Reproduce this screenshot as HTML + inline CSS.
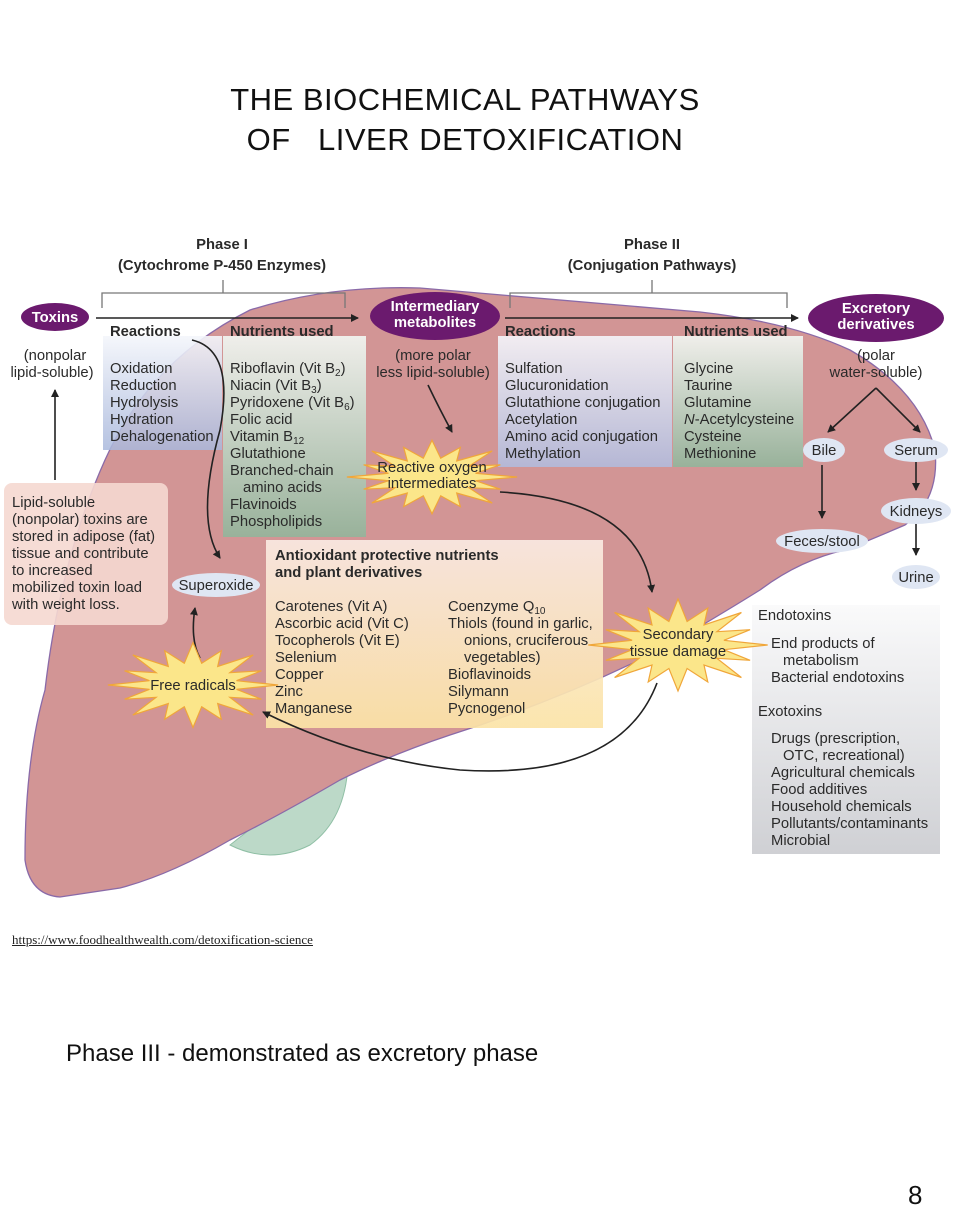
<!DOCTYPE html>
<html><head><meta charset="utf-8"><style>
html,body{margin:0;padding:0;background:#fff;}
body{width:960px;height:1232px;position:relative;overflow:hidden;font-family:"Liberation Sans",sans-serif;}
.t{position:absolute;left:0;width:930px;text-align:center;font-size:31px;color:#111;letter-spacing:0.5px}
svg text{font-family:"Liberation Sans",sans-serif;font-size:14.8px;fill:#2a2a2a}
svg .b{font-weight:bold}
</style></head><body>
<div class="t" style="top:82px">THE BIOCHEMICAL PATHWAYS</div>
<div class="t" style="top:122px">OF&nbsp;&nbsp; LIVER DETOXIFICATION</div>
<svg width="960" height="1232" style="position:absolute;left:0;top:0" xmlns="http://www.w3.org/2000/svg">
<defs>
<linearGradient id="gb" x1="0" y1="0" x2="0" y2="1"><stop offset="0" stop-color="#f4f6fb" stop-opacity=".9"/><stop offset="1" stop-color="#a9b8dc" stop-opacity=".85"/></linearGradient>
<linearGradient id="gg" x1="0" y1="0" x2="0" y2="1"><stop offset="0" stop-color="#f2f6f2" stop-opacity=".92"/><stop offset="1" stop-color="#92b59b" stop-opacity=".9"/></linearGradient>
<linearGradient id="gb2" x1="0" y1="0" x2="0" y2="1"><stop offset="0" stop-color="#f5f6fb" stop-opacity=".9"/><stop offset="1" stop-color="#b2bbdc" stop-opacity=".9"/></linearGradient>
<linearGradient id="gy" x1="0" y1="0" x2="0" y2="1"><stop offset="0" stop-color="#fbece4" stop-opacity=".9"/><stop offset="1" stop-color="#fbe3a6" stop-opacity=".92"/></linearGradient>
<linearGradient id="ggr" x1="0" y1="0" x2="0" y2="1"><stop offset="0" stop-color="#fafafb"/><stop offset="1" stop-color="#cfd0d4"/></linearGradient>
<marker id="ar" markerWidth="8" markerHeight="8" refX="7" refY="4" orient="auto" markerUnits="userSpaceOnUse"><path d="M0,0 L8,4 L0,8 z" fill="#222"/></marker>
</defs>
<path d="M230,845 Q270,865 310,845 Q345,820 348,765 L300,790 Z" fill="#bcd9c8" stroke="#8fbfa5" stroke-width="1"/>
<path d="M60,897 Q30,895 25,860 Q25,760 45,690 Q60,560 105,460 Q150,360 250,310 Q330,285 420,288 Q560,300 700,312 Q790,322 850,350 Q920,390 935,450 Q940,500 905,525 Q870,540 845,550 Q800,560 760,590 Q720,615 660,650 Q560,700 450,735 Q390,755 340,780 Q280,815 230,840 Q170,875 120,888 Z" fill="#d29595" stroke="#8a6aa8" stroke-width="1.3"/>
<rect x="103" y="336" width="119" height="114" fill="url(#gb)"/>
<rect x="223" y="336" width="143" height="201" fill="url(#gg)"/>
<rect x="498" y="336" width="174" height="131" fill="url(#gb2)"/>
<rect x="673" y="336" width="130" height="131" fill="url(#gg)"/>
<rect x="4" y="483" width="164" height="142" rx="8" fill="#f5d8d0" fill-opacity=".9"/>
<rect x="266" y="540" width="337" height="188" fill="url(#gy)"/>
<rect x="752" y="605" width="188" height="249" fill="url(#ggr)"/>
<text x="222" y="249" text-anchor="middle" class="b">Phase I</text>
<text x="222" y="270" text-anchor="middle" class="b">(Cytochrome P-450 Enzymes)</text>
<text x="652" y="249" text-anchor="middle" class="b">Phase II</text>
<text x="652" y="270" text-anchor="middle" class="b">(Conjugation Pathways)</text>
<g fill="none" stroke="#777" stroke-width="1.3">
<path d="M102,308 V293 H345 V308 M223,280 V293"/>
<path d="M510,308 V293 H787 V308 M652,280 V293"/>
</g>
<g stroke="#222" stroke-width="1.6" fill="none" marker-end="url(#ar)">
<line x1="96" y1="318" x2="358" y2="318"/>
<line x1="505" y1="318" x2="798" y2="318"/>
<path d="M55,480 V390"/>
<path d="M192,340 Q235,350 220,430 Q195,520 220,558"/>
<path d="M428,385 Q440,410 452,432"/>
<path d="M500,492 Q640,500 652,592"/>
<path d="M876,388 L828,432"/>
<path d="M876,388 L920,432"/>
<path d="M822,465 V518"/>
<path d="M916,460 V490"/>
<path d="M916,522 V555"/>
<path d="M200,658 Q190,640 195,608"/>
<path d="M657,683 Q620,780 460,770 Q360,760 263,712"/>
</g>
<ellipse cx="55" cy="317" rx="34" ry="14" fill="#6b1a6e"/>
<text x="55" y="322" text-anchor="middle" class="b" style="fill:#fff">Toxins</text>
<ellipse cx="435" cy="316" rx="65" ry="24" fill="#6b1a6e"/>
<text x="435" y="311" text-anchor="middle" class="b" style="fill:#fff">Intermediary</text>
<text x="435" y="327" text-anchor="middle" class="b" style="fill:#fff">metabolites</text>
<ellipse cx="876" cy="318" rx="68" ry="24" fill="#6b1a6e"/>
<text x="876" y="313" text-anchor="middle" class="b" style="fill:#fff">Excretory</text>
<text x="876" y="329" text-anchor="middle" class="b" style="fill:#fff">derivatives</text>
<g fill="#dfe6f3">
<ellipse cx="824" cy="450" rx="21" ry="12"/><ellipse cx="916" cy="450" rx="32" ry="12"/>
<ellipse cx="916" cy="511" rx="35" ry="13"/><ellipse cx="822" cy="541" rx="46" ry="12"/>
<ellipse cx="916" cy="577" rx="24" ry="12"/><ellipse cx="216" cy="585" rx="44" ry="12"/>
</g>
<text x="824" y="455" text-anchor="middle">Bile</text>
<text x="916" y="455" text-anchor="middle">Serum</text>
<text x="916" y="516" text-anchor="middle">Kidneys</text>
<text x="822" y="546" text-anchor="middle">Feces/stool</text>
<text x="916" y="582" text-anchor="middle">Urine</text>
<text x="216" y="590" text-anchor="middle">Superoxide</text>
<polygon id="s1" fill="#fbe68a" stroke="#f0a63a" stroke-width="1.2"/>
<polygon id="s2" fill="#fbe68a" stroke="#f0a63a" stroke-width="1.2"/>
<polygon id="s3" fill="#fbe68a" stroke="#f0a63a" stroke-width="1.2"/>
<text x="432" y="472" text-anchor="middle">Reactive oxygen</text>
<text x="432" y="488" text-anchor="middle">intermediates</text>
<text x="678" y="639" text-anchor="middle">Secondary</text>
<text x="678" y="656" text-anchor="middle">tissue damage</text>
<text x="193" y="690" text-anchor="middle">Free radicals</text>
<text x="55" y="360" text-anchor="middle">(nonpolar</text>
<text x="52" y="377" text-anchor="middle">lipid-soluble)</text>
<text x="12" y="507">Lipid-soluble</text>
<text x="12" y="524">(nonpolar) toxins are</text>
<text x="12" y="541">stored in adipose (fat)</text>
<text x="12" y="558">tissue and contribute</text>
<text x="12" y="575">to increased</text>
<text x="12" y="592">mobilized toxin load</text>
<text x="12" y="609">with weight loss.</text>
<text x="110" y="336" class="b">Reactions</text>
<g><text x="110" y="373">Oxidation</text><text x="110" y="390">Reduction</text><text x="110" y="407">Hydrolysis</text><text x="110" y="424">Hydration</text><text x="110" y="441">Dehalogenation</text></g>
<text x="230" y="336" class="b">Nutrients used</text>
<text x="230" y="373">Riboflavin (Vit B<tspan dy="3" font-size="10">2</tspan><tspan dy="-3">)</tspan></text>
<text x="230" y="390">Niacin (Vit B<tspan dy="3" font-size="10">3</tspan><tspan dy="-3">)</tspan></text>
<text x="230" y="407">Pyridoxene (Vit B<tspan dy="3" font-size="10">6</tspan><tspan dy="-3">)</tspan></text>
<text x="230" y="424">Folic acid</text>
<text x="230" y="441">Vitamin B<tspan dy="3" font-size="10">12</tspan></text>
<text x="230" y="458">Glutathione</text>
<text x="230" y="475">Branched-chain</text>
<text x="243" y="492">amino acids</text>
<text x="230" y="509">Flavinoids</text>
<text x="230" y="526">Phospholipids</text>
<text x="433" y="360" text-anchor="middle">(more polar</text>
<text x="433" y="377" text-anchor="middle">less lipid-soluble)</text>
<text x="505" y="336" class="b">Reactions</text>
<g><text x="505" y="373">Sulfation</text><text x="505" y="390">Glucuronidation</text><text x="505" y="407">Glutathione conjugation</text><text x="505" y="424">Acetylation</text><text x="505" y="441">Amino acid conjugation</text><text x="505" y="458">Methylation</text></g>
<text x="684" y="336" class="b">Nutrients used</text>
<g><text x="684" y="373">Glycine</text><text x="684" y="390">Taurine</text><text x="684" y="407">Glutamine</text><text x="684" y="424"><tspan font-style="italic">N</tspan>-Acetylcysteine</text><text x="684" y="441">Cysteine</text><text x="684" y="458">Methionine</text></g>
<text x="876" y="360" text-anchor="middle">(polar</text>
<text x="876" y="377" text-anchor="middle">water-soluble)</text>
<text x="275" y="560" class="b">Antioxidant protective nutrients</text>
<text x="275" y="577" class="b">and plant derivatives</text>
<g><text x="275" y="611">Carotenes (Vit A)</text><text x="275" y="628">Ascorbic acid (Vit C)</text><text x="275" y="645">Tocopherols (Vit E)</text><text x="275" y="662">Selenium</text><text x="275" y="679">Copper</text><text x="275" y="696">Zinc</text><text x="275" y="713">Manganese</text></g>
<g><text x="448" y="611">Coenzyme Q<tspan dy="3" font-size="10">10</tspan></text><text x="448" y="628">Thiols (found in garlic,</text><text x="464" y="645">onions, cruciferous</text><text x="464" y="662">vegetables)</text><text x="448" y="679">Bioflavinoids</text><text x="448" y="696">Silymann</text><text x="448" y="713">Pycnogenol</text></g>
<g><text x="758" y="620">Endotoxins</text><text x="771" y="648">End products of</text><text x="783" y="665">metabolism</text><text x="771" y="682">Bacterial endotoxins</text>
<text x="758" y="716">Exotoxins</text><text x="771" y="743">Drugs (prescription,</text><text x="783" y="760">OTC, recreational)</text><text x="771" y="777">Agricultural chemicals</text><text x="771" y="794">Food additives</text><text x="771" y="811">Household chemicals</text><text x="771" y="828">Pollutants/contaminants</text><text x="771" y="845">Microbial</text></g>
</svg>
<div style="position:absolute;left:12px;top:932px;font-family:'Liberation Serif',serif;font-size:13px;color:#222;text-decoration:underline">https://www.foodhealthwealth.com/detoxification-science</div>
<div style="position:absolute;left:66px;top:1040px;font-size:24px;color:#111">Phase III - demonstrated as excretory phase</div>
<div style="position:absolute;left:908px;top:1180px;font-size:26px;color:#111">8</div>
<script>
function star(id,cx,cy,rx,ry,n){var p=[];for(var i=0;i<n*2;i++){var a=Math.PI*i/n;var f=i%2?0.6:1;var e=(i%4==0)?1.15:1;p.push((cx+Math.cos(a)*rx*f*e).toFixed(1)+","+(cy+Math.sin(a)*ry*f*e).toFixed(1));}document.getElementById(id).setAttribute("points",p.join(" "));}
star("s1",432,477,74,32,16);star("s2",678,645,78,40,16);star("s3",193,685,74,37,16);
</script>
</body></html>
